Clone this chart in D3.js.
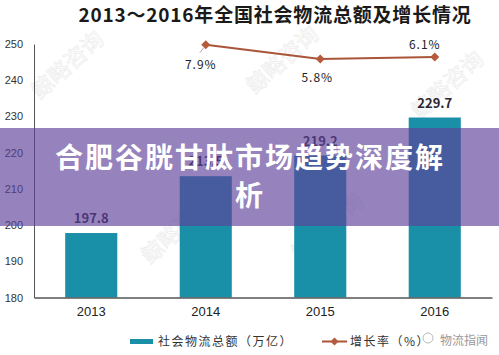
<!DOCTYPE html>
<html><head><meta charset="utf-8">
<script src="https://cdn.jsdelivr.net/npm/d3@7/dist/d3.min.js"></script>
<style>body{margin:0;background:#fff}svg{display:block}</style>
</head><body>
<svg id="c" width="499" height="355"></svg>
<script>
const categories = ["2013", "2014", "2015", "2016"];
const totals = [197.8, 213.5, 219.2, 229.7];
const growthYears = ["2014", "2015", "2016"];
const growth = [7.9, 5.8, 6.1];
const yTicks = [180, 190, 200, 210, 220, 230, 240, 250];
const title = "2013～2016年全国社会物流总额及增长情况";
const overlayLines = ["合肥谷胱甘肽市场趋势深度解", "析"];

const svg = d3.select("#c");
const x0 = 34, x1 = 492, yB = 297.5, yT = 44;
const x = d3.scaleBand().domain(categories).range([x0, x1]).paddingInner(0.545).paddingOuter(0.2725);
const y = d3.scaleLinear().domain([180, 250]).range([yB, yT]);
const y2 = d3.scaleLinear().domain([-29, 8]).range([yB, yT]);

// watermark
const wm = svg.append("g").attr("fill", "none").attr("stroke", "#e6e6e6").attr("stroke-width", 0.5)
  .attr("font-family", "Noto Sans CJK SC").attr("font-size", 22);
[[40, 100], [255, 95], [150, 265], [300, 262], [420, 120]].forEach(p => {
  wm.append("text").attr("transform", `translate(${p[0]},${p[1]}) rotate(-42)`).text("鲸略咨询");
});

// title
svg.append("text").attr("x", 275).attr("y", 22).attr("text-anchor", "middle")
  .attr("font-family", "Noto Sans CJK SC").attr("font-weight", 700).attr("font-size", 19)
  .attr("letter-spacing", 0.8).attr("fill", "#1a1a1a").text(title);

// bars
svg.append("g").selectAll("rect").data(totals).join("rect")
  .attr("x", (d, i) => x(categories[i])).attr("width", x.bandwidth())
  .attr("y", d => y(d)).attr("height", d => yB - y(d)).attr("fill", "#1a8fa8");

// bar labels
svg.append("g").selectAll("text").data(totals).join("text")
  .attr("x", (d, i) => x(categories[i]) + x.bandwidth() / 2).attr("y", d => y(d) - 10)
  .attr("text-anchor", "middle").attr("font-family", "Noto Sans CJK SC").attr("font-weight", 700)
  .attr("font-size", 13).attr("fill", "#2a2530").text(d => d.toFixed(1));

// axes
const yAxis = svg.append("g").attr("transform", `translate(${x0},0)`)
  .call(d3.axisLeft(y).tickValues(yTicks).tickSize(0).tickPadding(11));
yAxis.select(".domain").attr("stroke", "#555").attr("stroke-width", 1);
yAxis.selectAll("text").attr("font-family", "Liberation Sans").attr("font-size", 11).attr("fill", "#333");

const xAxis = svg.append("g").attr("transform", `translate(0,${yB})`)
  .call(d3.axisBottom(x).tickSize(0).tickPadding(9));
xAxis.select(".domain").attr("stroke", "#555").attr("stroke-width", 1.5);
xAxis.selectAll("text").attr("font-family", "Liberation Sans").attr("font-size", 13).attr("fill", "#222");

// growth line
const cx = d => x(d) + x.bandwidth() / 2;
svg.append("path").datum(growth)
  .attr("d", d3.line().x((d, i) => cx(growthYears[i])).y(d => y2(d)))
  .attr("fill", "none").attr("stroke", "#a8553a").attr("stroke-width", 2);
svg.append("g").selectAll("path").data(growth).join("path")
  .attr("transform", (d, i) => `translate(${cx(growthYears[i])},${y2(d)}) rotate(45)`)
  .attr("d", "M-3.2,-3.2H3.2V3.2H-3.2Z").attr("fill", "#b55a3c");
svg.append("line").attr("x1", cx(growthYears[0]) - 6).attr("y1", y2(growth[0]) + 8)
  .attr("x2", cx(growthYears[0]) - 2).attr("y2", y2(growth[0]) + 3).attr("stroke", "#aaa").attr("stroke-width", 1);
const gOff = [[-5, 24], [-3, 23], [-10, -8]];
svg.append("g").selectAll("text").data(growth).join("text")
  .attr("x", (d, i) => cx(growthYears[i]) + gOff[i][0]).attr("y", (d, i) => y2(d) + gOff[i][1])
  .attr("text-anchor", "middle").attr("font-family", "Noto Sans CJK SC").attr("font-size", 12)
  .attr("letter-spacing", 1).attr("fill", "#222").text(d => d.toFixed(1) + "%");

// legend
const lg = svg.append("g").attr("font-family", "Noto Sans CJK SC").attr("font-size", 12).attr("fill", "#333");
lg.append("rect").attr("x", 130).attr("y", 339).attr("width", 23).attr("height", 5).attr("fill", "#1a8fa8");
lg.append("text").attr("x", 158).attr("y", 346).attr("letter-spacing", 1.5).text("社会物流总额（万亿）");
lg.append("line").attr("x1", 322).attr("x2", 347).attr("y1", 341.5).attr("y2", 341.5).attr("stroke", "#a8553a").attr("stroke-width", 2);
lg.append("path").attr("transform", "translate(334.5,341.5) rotate(45)").attr("d", "M-2.8,-2.8H2.8V2.8H-2.8Z").attr("fill", "#b55a3c");
lg.append("text").attr("x", 350).attr("y", 346).attr("letter-spacing", 1.5).text("增长率（%）");

// logo
svg.append("circle").attr("cx", 428).attr("cy", 338).attr("r", 5).attr("fill", "none").attr("stroke", "#bbb").attr("stroke-width", 1);
svg.append("text").attr("x", 440).attr("y", 345).attr("font-family", "Noto Sans CJK SC").attr("font-size", 12)
  .attr("fill", "#999").text("物流指闻");

// overlay band
svg.append("rect").attr("x", 0).attr("y", 128).attr("width", 499).attr("height", 98)
  .attr("fill", "rgb(94,65,154)").attr("opacity", 0.65);
svg.append("g").selectAll("text").data(overlayLines).join("text")
  .attr("x", 250).attr("y", (d, i) => 168 + i * 38).attr("text-anchor", "middle")
  .attr("font-family", "Noto Sans CJK SC").attr("font-weight", 700).attr("font-size", 28)
  .attr("letter-spacing", 2).attr("fill", "#fff").text(d => d);
</script>
</body></html>
